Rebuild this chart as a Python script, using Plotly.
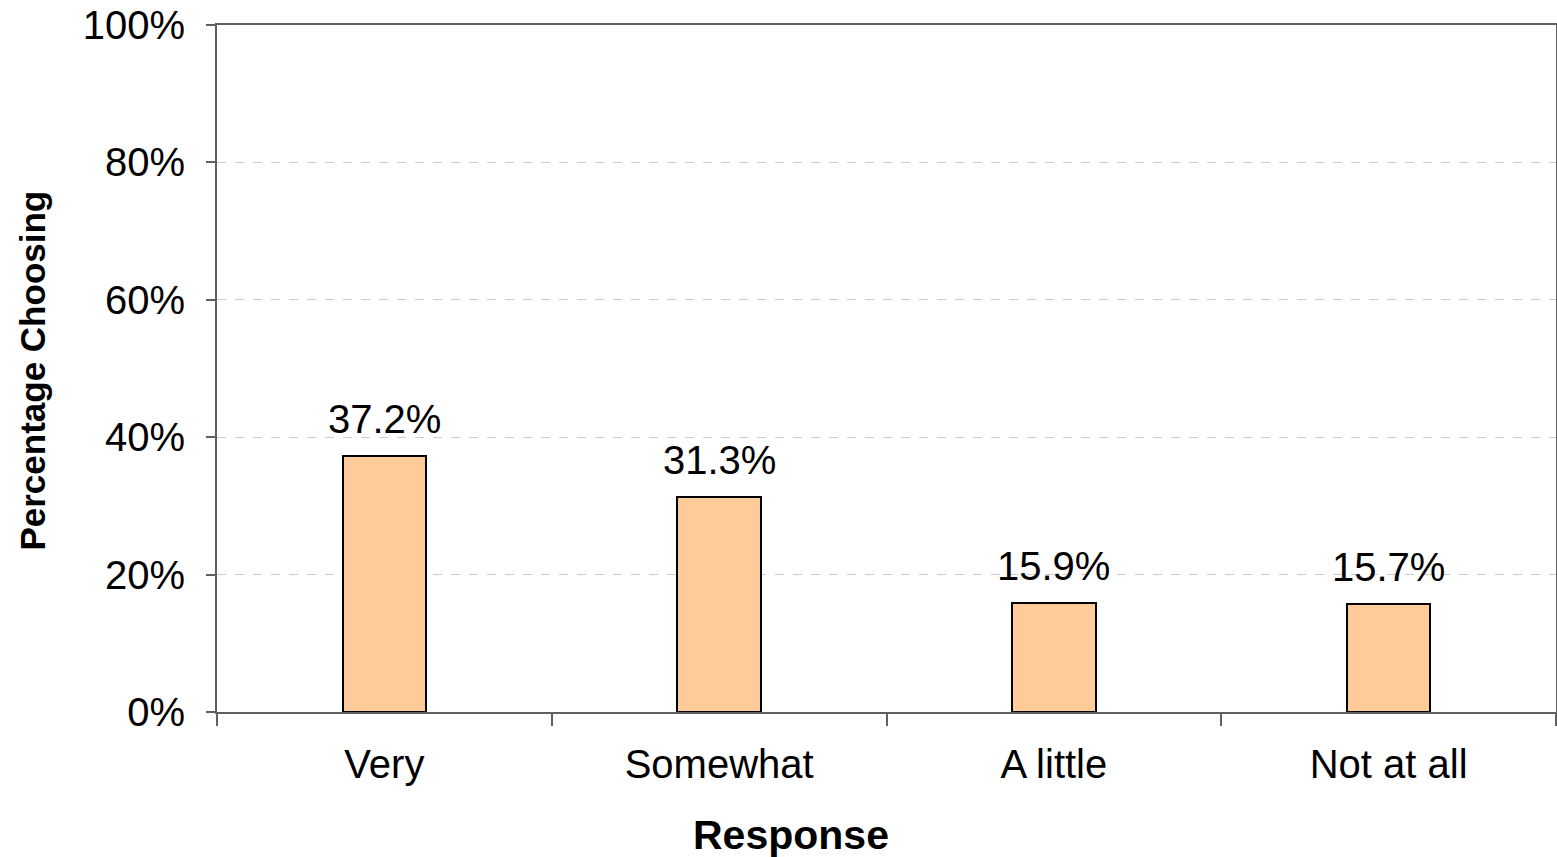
import plotly.graph_objects as go

categories = ["Very", "Somewhat", "A little", "Not at all"]
values = [37.2, 31.3, 15.9, 15.7]
labels = ["37.2%", "31.3%", "15.9%", "15.7%"]
y_ticks = [0, 20, 40, 60, 80, 100]
y_tick_text = ["0%", "20%", "40%", "60%", "80%", "100%"]

FONT = "Arial, Liberation Sans, sans-serif"

fig = go.Figure()
fig.add_trace(go.Bar(
    x=categories, y=values,
    marker=dict(color="#FFCC99", line=dict(color="black", width=2)),
    width=0.25,
))
for c, v, t in zip(categories, values, labels):
    fig.add_annotation(x=c, y=v, text=t, showarrow=False, yanchor="bottom",
                       yshift=13, font=dict(family=FONT, size=40, color="black"))

fig.add_annotation(xref="paper", yref="paper", x=0.429, y=-0.179, text="<b>Response</b>",
                   showarrow=False, xanchor="center", yanchor="middle",
                   font=dict(family=FONT, size=41, color="black"))
fig.add_annotation(xref="paper", yref="paper", x=-0.1374, y=0.497, text="<b>Percentage Choosing</b>",
                   showarrow=False, xanchor="center", yanchor="middle", textangle=-90,
                   font=dict(family=FONT, size=35, color="black"))

fig.update_layout(
    width=1557, height=857,
    margin=dict(l=217, r=1, t=25, b=145),
    plot_bgcolor="white", paper_bgcolor="white",
    showlegend=False,
    font=dict(family=FONT, color="black"),
    bargap=0,
)
fig.update_xaxes(
    automargin=False,
    showline=True, linecolor="#606060", linewidth=2, mirror=True,
    ticks="outside", tickson="boundaries", ticklen=12, tickcolor="#606060", tickwidth=2,
    tickfont=dict(size=40), ticklabelstandoff=16, showgrid=False,
)
fig.update_yaxes(
    automargin=False,
    range=[0, 100], tickvals=y_ticks, ticktext=y_tick_text,
    showline=True, linecolor="#606060", linewidth=2, mirror=True,
    ticks="outside", ticklen=9, tickcolor="#606060", tickwidth=2,
    tickfont=dict(size=40), ticklabelstandoff=13, ticklabeloverflow="allow",
    showgrid=True, gridcolor="#cccccc", griddash="dash", gridwidth=1,
    zeroline=False,
)

fig.write_html("out.html", config={"displayModeBar": False},
               post_script="document.body.style.margin='0';document.body.style.overflow='hidden';")
